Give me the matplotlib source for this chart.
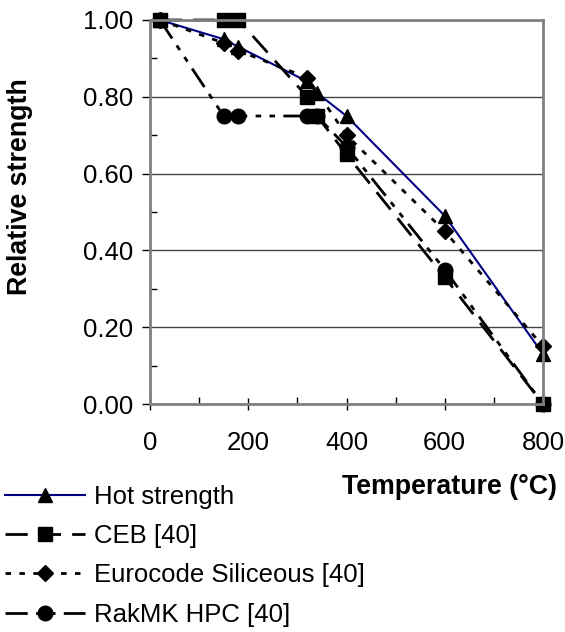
import matplotlib
matplotlib.use("Agg")
import matplotlib.pyplot as plt
from matplotlib.ticker import MultipleLocator, FormatStrFormatter

plt.rcParams['font.family'] = ['Liberation Sans', 'DejaVu Sans']

# data
hot_t = [20, 150, 180, 320, 340, 400, 600, 800]
hot_s = [1.00, 0.95, 0.93, 0.84, 0.81, 0.75, 0.49, 0.13]

ceb_t = [20, 150, 180, 320, 340, 400, 600, 800]
ceb_s = [1.00, 1.00, 1.00, 0.80, 0.75, 0.65, 0.33, 0.00]

euro_t = [20, 150, 180, 320, 400, 600, 800]
euro_s = [1.00, 0.94, 0.92, 0.85, 0.70, 0.45, 0.15]

rak_t = [20, 150, 180, 320, 340, 400, 600, 800]
rak_s = [1.00, 0.75, 0.75, 0.75, 0.75, 0.67, 0.35, 0.00]

labels = ["Hot strength", "CEB [40]", "Eurocode Siliceous [40]", "RakMK HPC [40]"]

W, H = 565, 632
fig = plt.figure(figsize=(W / 100, H / 100), dpi=100)
ax = fig.add_axes([150 / W, 1 - 404 / H, (543 - 150) / W, (404 - 20) / H])

fs = 18.5
l1, = ax.plot(hot_t, hot_s, color="#000080", lw=1.5, marker="^", mfc="black", mec="black", ms=10)
l2, = ax.plot(ceb_t, ceb_s, color="black", lw=2, dashes=(8, 4), marker="s", mfc="black", mec="black", ms=10)
l3, = ax.plot(euro_t, euro_s, color="black", lw=2, dashes=(2, 3), marker="D", mfc="black", mec="black", ms=8.5)
l4, = ax.plot(rak_t, rak_s, color="black", lw=2, dashes=(8, 3, 2, 3, 2, 3), marker="o", mfc="black", mec="black", ms=10.5)
for l in (l1, l2, l3, l4):
    l.set_clip_on(False)

ax.set_xlim(0, 800)
ax.set_ylim(0, 1.0)
ax.xaxis.set_major_locator(MultipleLocator(200))
ax.xaxis.set_minor_locator(MultipleLocator(100))
ax.yaxis.set_major_locator(MultipleLocator(0.2))
ax.yaxis.set_minor_locator(MultipleLocator(0.1))
ax.yaxis.set_major_formatter(FormatStrFormatter("%.2f"))

ax.grid(True, axis="y", which="major", color="#444444", lw=1)
for s in ax.spines.values():
    s.set_color("#808080")
    s.set_linewidth(2)

ax.tick_params(axis="x", which="major", direction="inout", length=9, width=1, labelsize=fs, pad=15)
ax.tick_params(axis="y", which="major", direction="out", length=6, width=1, labelsize=fs, pad=6)
ax.tick_params(which="minor", direction="in", length=5, width=1)

# axis titles placed as in the reference
fig.text(20 / W, 1 - 187 / H, "Relative strength", fontsize=19.3, fontweight="bold",
         rotation=90, ha="center", va="center")
fig.text(557 / W, 1 - 487 / H, "Temperature (°C)", fontsize=19.3, fontweight="bold",
         ha="right", va="center")

fig.legend([l1, l2, l3, l4], labels, loc="upper left", bbox_to_anchor=(0.005, 1 - 482 / H),
           frameon=False, fontsize=fs, handlelength=3.1, handletextpad=0.35,
           labelspacing=0.6, borderaxespad=0, borderpad=0.1)

plt.savefig("out.png", dpi=100)
